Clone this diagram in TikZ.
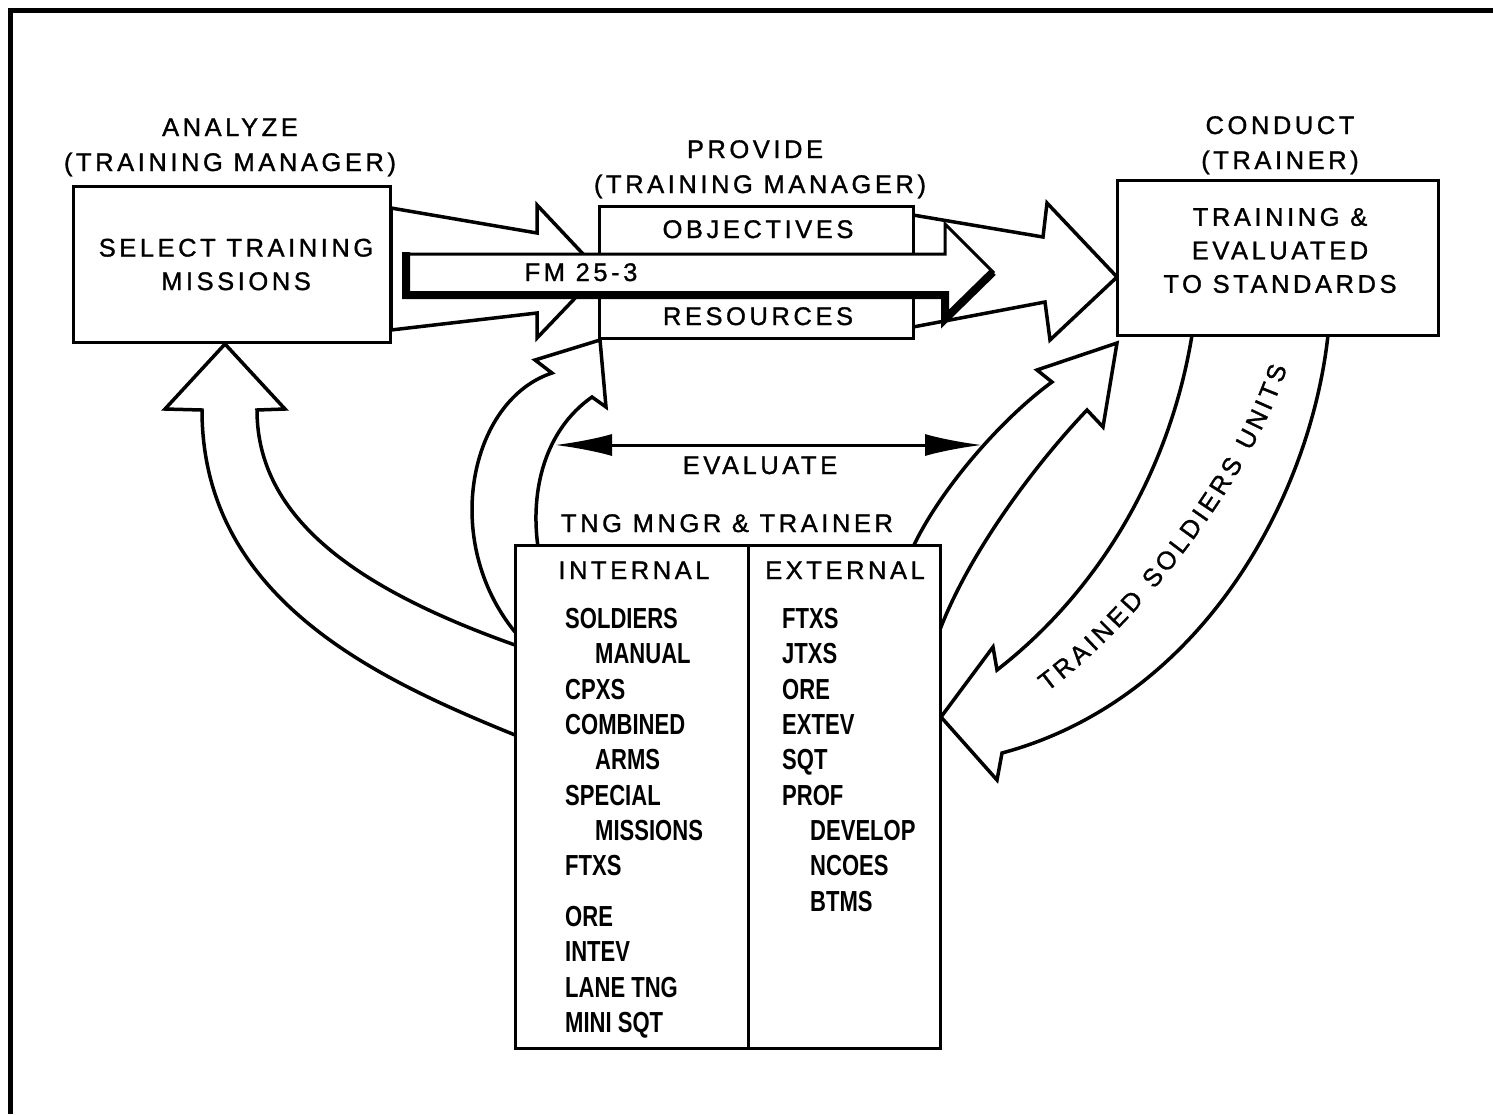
\documentclass[tikz,border=0pt]{standalone}
\usepackage{fontspec}
\usetikzlibrary{decorations.text,arrows.meta}
\newfontfamily\lblfont{Liberation Sans}[LetterSpace=14,FakeBold=1.2]
\newfontfamily\arcfont{Liberation Sans}[FakeBold=1.2]
\newfontfamily\listfont{Liberation Sans Bold}[FakeStretch=0.76]
\newcommand\lblsize{\fontsize{25.5}{33.5}\selectfont}
\newcommand\itemsize{\fontsize{29}{35}\selectfont}
\begin{document}
\begin{tikzpicture}[x=1pt,y=-1pt,
  box/.style={draw,line width=3pt,fill=white,inner sep=0pt,outer sep=0pt},
  hollow/.style={draw,line width=3.5pt,fill=white,line join=miter,miter limit=6},
  lbl/.style={font=\lblfont\lblsize,inner sep=0pt,anchor=base,align=center},
  mlbl/.style={font=\lblfont\lblsize,inner sep=0pt,anchor=center,align=center},
  item/.style={font=\listfont\itemsize,inner sep=0pt,anchor=base west},
]
\useasboundingbox (0,0) rectangle (1493,1114);
\fill[white] (0,0) rectangle (1493,1114);
% frame
\draw[line width=5pt] (8,10.5) -- (1493,10.5);
\draw[line width=5pt] (10.5,8) -- (10.5,1114);

% big arrow analyze -> provide
\path[hollow] (391,208) -- (537,233) -- (537,205) -- (600,272) -- (537,338) -- (537,313) -- (391,330) -- cycle;
% big arrow provide -> conduct
\path[hollow] (913,215) -- (1043,237) -- (1047,203) -- (1117,277) -- (1050,340) -- (1045,302) -- (913,327) -- cycle;

% curved arrow TNG -> analyze
\path[hollow] (515,735) .. controls (380,680) and (202,600) .. (202,410) -- (165,409) -- (225,344)
   -- (285,409) -- (257,410) .. controls (257,520) and (360,590) .. (515,645);
% curved arrow TNG -> provide
\path[hollow] (515,632) .. controls (440,540) and (470,400) .. (552,373) -- (535,360) -- (600,340)
   -- (606,407) -- (592,397) .. controls (545,430) and (530,490) .. (538,547);
% curved arrow TNG -> conduct
\path[hollow] (913,547) .. controls (940,490) and (1000,420) .. (1052,382) -- (1037,370) -- (1117,343)
   -- (1103,427) -- (1087,410) .. controls (1030,470) and (965,560) .. (938,635);
% trained soldiers arrow conduct -> TNG
\path[hollow] (1192,335) .. controls (1170,470) and (1100,590) .. (997,670) -- (993,647) -- (941,717)
   -- (997,780) -- (1002,753) .. controls (1200,700) and (1310,500) .. (1328,335);
\path[decorate,decoration={text along path,text align=fit to path,
   text={|\arcfont\lblsize|TRAINED SOLDIERS UNITS}}]
   (1047,692) .. controls (1150,615) and (1255,470) .. (1287,368);

% boxes
\node[box,minimum width=317pt,minimum height=156pt] (analyze) at (231.5,264) {};
\node[box,minimum width=314pt,minimum height=132pt] (provide) at (756,272) {};
\node[box,minimum width=321pt,minimum height=155pt] (conduct) at (1277.5,257.5) {};
\node[box,minimum width=425pt,minimum height=503pt] (tng) at (727.5,796.5) {};
\draw[line width=3pt] (748,545) -- (748,1048);

% FM 25-3 arrow
\path[hollow,line width=3pt] (405,254) -- (945,254) -- (945,224) -- (993,272) -- (945,319) -- (945,293) -- (405,293) -- cycle;
\draw[line width=8pt,line join=miter] (406,252) -- (406,295) -- (945,295) -- (945,319) -- (993,272);

% evaluate arrow
\coordinate (evL) at (555,445);
\coordinate (evR) at (982,445);
\draw[line width=3pt,{Latex[length=57pt,width=22pt]}-{Latex[length=57pt,width=22pt]}] (evL) -- (evR);

% labels
\node[lbl] (a1) at (230,136) {ANALYZE};
\node[lbl] (a2) at (230,171) {(TRAINING MANAGER)};
\node[mlbl] (a3) at (236,264.5) {SELECT TRAINING\\MISSIONS};
\node[lbl] (p1) at (755,158) {PROVIDE};
\node[lbl] (p2) at (760,193) {(TRAINING MANAGER)};
\node[lbl] (p3) at (758,238) {OBJECTIVES};
\node[lbl] (p4) at (758,325) {RESOURCES};
\node[lbl] (fm) at (581,281) {FM 25-3};
\node[lbl] (c1) at (1280,134) {CONDUCT};
\node[lbl] (c2) at (1280,169) {(TRAINER)};
\node[mlbl] (c3) at (1280,250.5) {TRAINING \&\\EVALUATED\\TO STANDARDS};
\node[lbl] (ev) at (760,474) {EVALUATE};
\node[lbl] (tm) at (727,532) {TNG MNGR \& TRAINER};
\node[lbl] (int) at (634,579) {INTERNAL};
\node[lbl] (ext) at (845,579) {EXTERNAL};

\foreach \t/\x/\y [count=\i] in {SOLDIERS/565/617, MANUAL/595/652, CPXS/565/688, COMBINED/565/723,
   ARMS/595/758, SPECIAL/565/794, MISSIONS/595/829, FTXS/565/864, ORE/565/915, INTEV/565/950,
   LANE TNG/565/986, MINI SQT/565/1021}
  \node[item] (in\i) at (\x,\y+11) {\t};
\foreach \t/\x/\y [count=\i] in {FTXS/782/617, JTXS/782/652, ORE/782/688, EXTEV/782/723,
   SQT/782/758, PROF/782/794, DEVELOP/810/829, NCOES/810/864, BTMS/810/900}
  \node[item] (ex\i) at (\x,\y+11) {\t};
\end{tikzpicture}
\end{document}
